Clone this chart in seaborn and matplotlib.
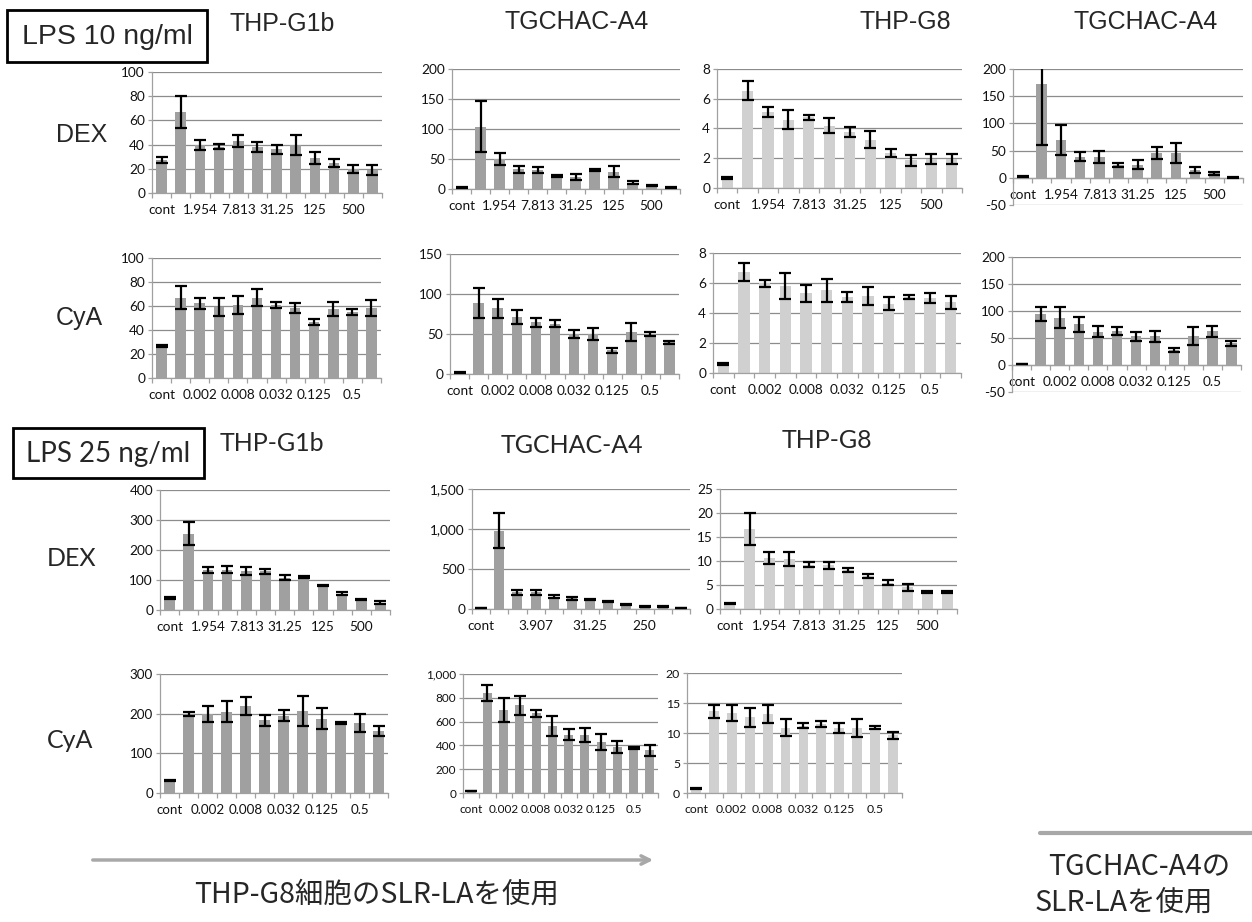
import numpy as np
import pandas as pd
import matplotlib
matplotlib.use("Agg")
import matplotlib.pyplot as plt
import seaborn as sns
from matplotlib.patches import FancyArrowPatch, Rectangle
from matplotlib.lines import Line2D
from matplotlib.ticker import FixedLocator, FuncFormatter

# ---------------- data ----------------
DEX_CONC = ["cont", "0.977", "1.954", "3.907", "7.813", "15.63", "31.25",
            "62.5", "125", "250", "500", "1000"]
CYA_CONC = ["cont", "0.001", "0.002", "0.004", "0.008", "0.016", "0.032",
            "0.0625", "0.125", "0.25", "0.5", "1"]

# LPS 10 ng/ml, DEX
g1b_dex10_mean = [27, 67, 39.7, 38.4, 43, 38, 36, 39.5, 29, 25, 19.8, 18.8]
g1b_dex10_err = [2.5, 13.5, 4.4, 1.8, 5, 4, 4, 8.5, 4.7, 3.5, 3.3, 4.2]
a4_dex10_mean = [2, 104, 50, 33, 31, 22, 20.5, 31, 29, 10.5, 6, 2]
a4_dex10_err = [0.5, 42, 10, 6, 5, 1.5, 5, 1.5, 9, 2.5, 1, 0.5]
g8_dex10_mean = [0.65, 6.55, 5.1, 4.6, 4.75, 4.2, 3.74, 3.25, 2.35, 1.87, 1.97, 1.95]
g8_dex10_err = [0.07, 0.65, 0.36, 0.66, 0.17, 0.48, 0.34, 0.58, 0.25, 0.38, 0.33, 0.33]
a4b_dex10_mean = [2, 172, 69, 39, 39, 22.8, 24, 45, 45.5, 14, 8, 1]
a4b_dex10_err = [0.5, 112, 28, 9, 11, 3.7, 8, 11, 19, 5, 2, 0.5]

# LPS 10 ng/ml, CyA
g1b_cya10_mean = [26.5, 67, 62.3, 59.5, 61, 67, 61, 58.4, 46.5, 57.7, 55, 58.5]
g1b_cya10_err = [1, 9.4, 4.7, 7.5, 7.5, 7, 2.5, 3.9, 2.4, 6, 2.1, 6.8]
a4_cya10_mean = [2, 88.6, 82.3, 71.5, 64.5, 62.7, 50, 50, 29.9, 53, 50, 39.7]
a4_cya10_err = [0.5, 18.8, 11.7, 8.8, 5.2, 4.2, 5.2, 7.3, 3.1, 11.3, 2.1, 2.1]
g8_cya10_mean = [0.6, 6.72, 5.97, 5.8, 5.3, 5.5, 5.05, 5.13, 4.63, 5.08, 5.0, 4.7]
g8_cya10_err = [0.05, 0.6, 0.23, 0.89, 0.56, 0.79, 0.33, 0.58, 0.41, 0.15, 0.33, 0.41]
a4b_cya10_mean = [2, 94.7, 87.6, 75, 62, 62.8, 53, 53, 28.5, 53.6, 62.5, 40.3]
a4b_cya10_err = [0.5, 12.4, 19.5, 13.3, 9.3, 7.1, 7.7, 10.8, 3.7, 16.4, 9.9, 5]

# LPS 25 ng/ml, DEX
g1b_dex25_mean = [40, 255, 133, 134, 130, 129, 108, 110, 82, 55, 35, 25]
g1b_dex25_err = [3, 38, 11, 12, 14, 9, 8, 3, 2, 5, 1, 4]
a4_dex25_mean = [15, 980, 210, 210, 154, 133, 120, 92, 58, 30, 30, 8]
a4_dex25_err = [2, 220, 31, 31, 17, 17, 8, 8, 5, 4, 4, 1]
g8_dex25_mean = [1.2, 16.7, 10.65, 10.5, 9.27, 9.1, 8.2, 6.86, 5.5, 4.5, 3.47, 3.47]
g8_dex25_err = [0.15, 3.4, 1.3, 1.45, 0.6, 0.77, 0.4, 0.35, 0.5, 0.7, 0.2, 0.2]

# LPS 25 ng/ml, CyA
g1b_cya25_mean = [31, 199, 199, 205, 219, 183.5, 195, 207, 187.4, 177, 177, 156]
g1b_cya25_err = [1, 6, 20.7, 27, 22, 13.5, 14.7, 38, 26.4, 3, 22, 12]
a4_cya25_mean = [15, 841, 698, 736, 670, 563, 489, 485, 430, 388, 377, 359]
a4_cya25_err = [2, 67, 98, 80, 28, 88, 47, 60, 67, 53, 8, 46]
g8_cya25_mean = [0.8, 13.6, 13.35, 12.65, 13.15, 10.9, 11.2, 11.5, 10.8, 10.9, 10.9, 9.6]
g8_cya25_err = [0.05, 1.1, 1.35, 1.6, 1.45, 1.4, 0.42, 0.47, 0.84, 1.5, 0.28, 0.64]

# ---------------- style / layout ----------------
W, H = 1252, 922
DARK = "#a0a0a0"
LIGHT = "#d0d0d0"
GRID = "#8c8c8c"
AXC = "#a0a0a0"

sns.set_theme(style="white")
plt.rcParams["font.family"] = ["Liberation Sans", "DejaVu Sans"]

fig = plt.figure(figsize=(W / 100, H / 100), dpi=100)
fig.patch.set_facecolor("white")


def fx(x):
    return x / W


def fy(y):
    return 1 - y / H


# (mean, err, cats, label step, ymin, ymax, ystep, colour, left, right, top, bottom, tick font)
panels = [
    (g1b_dex10_mean, g1b_dex10_err, DEX_CONC, 2, 0, 100, 20, DARK, 152, 382, 72, 193, 9.8),
    (a4_dex10_mean, a4_dex10_err, DEX_CONC, 2, 0, 200, 50, DARK, 452, 680, 69, 189, 9.8),
    (g8_dex10_mean, g8_dex10_err, DEX_CONC, 2, 0, 8, 2, LIGHT, 717, 962, 69, 188, 9.8),
    (a4b_dex10_mean, a4b_dex10_err, DEX_CONC, 2, -50, 200, 50, DARK, 1013, 1243, 69, 205, 9.8),
    (g1b_cya10_mean, g1b_cya10_err, CYA_CONC, 2, 0, 100, 20, DARK, 152, 381, 258, 378, 9.8),
    (a4_cya10_mean, a4_cya10_err, CYA_CONC, 2, 0, 150, 50, DARK, 450, 679, 254, 374, 9.8),
    (g8_cya10_mean, g8_cya10_err, CYA_CONC, 2, 0, 8, 2, LIGHT, 713, 961, 253, 373, 9.8),
    (a4b_cya10_mean, a4b_cya10_err, CYA_CONC, 2, -50, 200, 50, DARK, 1012, 1241, 257, 392, 9.8),
    (g1b_dex25_mean, g1b_dex25_err, DEX_CONC, 2, 0, 400, 100, DARK, 160, 390, 490, 610, 9.8),
    (a4_dex25_mean, a4_dex25_err, DEX_CONC, 3, 0, 1500, 500, DARK, 472, 690, 489, 609, 9.8),
    (g8_dex25_mean, g8_dex25_err, DEX_CONC, 2, 0, 25, 5, LIGHT, 720, 957, 489, 609, 9.8),
    (g1b_cya25_mean, g1b_cya25_err, CYA_CONC, 2, 0, 300, 100, DARK, 160, 388, 674, 793, 9.6),
    (a4_cya25_mean, a4_cya25_err, CYA_CONC, 2, 0, 1000, 200, DARK, 463, 658, 674, 793, 8.5),
    (g8_cya25_mean, g8_cya25_err, CYA_CONC, 2, 0, 20, 5, LIGHT, 687, 902, 673, 793, 8.8),
]

for (mean, err, cats, step, ymin, ymax, ystep, col, L, R, T, B, tfs) in panels:
    ax = fig.add_axes([fx(L), fy(B), (R - L) / W, (B - T) / H])
    df = pd.DataFrame({"conc": cats, "value": mean})
    sns.barplot(data=df, x="conc", y="value", order=cats, color=col,
                saturation=1, width=0.55, errorbar=None, linewidth=0, ax=ax)
    ax.errorbar(np.arange(len(cats)), mean, yerr=err, fmt="none",
                ecolor="black", elinewidth=1.6, capsize=4, capthick=1.6,
                zorder=4)
    ax.set_ylim(ymin, ymax)
    ax.set_xlim(-0.5, len(cats) - 0.5)
    ax.set_yticks(np.arange(ymin, ymax + ystep / 2, ystep))
    ax.yaxis.set_major_formatter(FuncFormatter(lambda v, p: f"{v:,.0f}"))
    ax.yaxis.grid(True, color=GRID, lw=0.9)
    ax.xaxis.grid(False)
    ax.set_axisbelow(True)
    for s in ("top", "right"):
        ax.spines[s].set_visible(False)
    ax.spines["left"].set_color(AXC)
    ax.spines["bottom"].set_color(AXC)
    ax.spines["left"].set_linewidth(0.9)
    ax.spines["bottom"].set_linewidth(0.9)
    if ymin < 0:
        ax.spines["bottom"].set_position(("data", 0))
    idx = np.arange(len(cats))
    ax.set_xticks(idx[::step])
    ax.set_xticklabels(cats[::step])
    ax.xaxis.set_minor_locator(FixedLocator(np.arange(-0.5, len(cats), 1)))
    ax.tick_params(axis="x", which="major", length=0, pad=8)
    ax.tick_params(axis="x", which="minor", length=3.5, color=AXC, width=0.9,
                   direction="out", bottom=True)
    ax.tick_params(axis="y", which="major", length=3, color=AXC, width=0.9,
                   direction="out", left=True, pad=2)
    for lab in ax.get_xticklabels() + ax.get_yticklabels():
        lab.set_fontfamily(["Lato", "DejaVu Sans"])
        lab.set_fontsize(tfs)
        lab.set_color("#111111")
    ax.set_xlabel("")
    ax.set_ylabel("")

# ---------------- titles and labels ----------------
ARIAL = ["Liberation Sans", "DejaVu Sans"]
CALI = ["Lato", "DejaVu Sans"]

titles_top = [("THP-G1b", 282, 24), ("TGCHAC-A4", 577, 22),
              ("THP-G8", 905, 22), ("TGCHAC-A4", 1146, 22)]
for t, x, y in titles_top:
    fig.text(fx(x), fy(y), t, ha="center", va="center", fontsize=18, family=ARIAL)

titles_mid = [("THP-G1b", 272, 443), ("TGCHAC-A4", 572, 445), ("THP-G8", 827, 441)]
for t, x, y in titles_mid:
    fig.text(fx(x), fy(y), t, ha="center", va="center", fontsize=18, family=CALI)

row_labels = [("DEX", 82, 135, ARIAL), ("CyA", 79, 318, ARIAL),
              ("DEX", 72, 559, CALI), ("CyA", 70, 740, CALI)]
for t, x, y, fam in row_labels:
    fig.text(fx(x), fy(y), t, ha="center", va="center", fontsize=18, family=fam)

# LPS boxes
for (t, x0, y0, x1, y1, fam, fs) in [("LPS 10 ng/ml", 7, 10, 207, 62, ARIAL, 20.5),
                                     ("LPS 25 ng/ml", 13, 428, 204, 478, CALI, 20)]:
    fig.patches.append(Rectangle((fx(x0), fy(y1)), (x1 - x0) / W, (y1 - y0) / H,
                                 transform=fig.transFigure, fill=False,
                                 edgecolor="black", lw=2))
    fig.text(fx((x0 + x1) / 2), fy((y0 + y1) / 2 + 1), t, ha="center", va="center",
             fontsize=fs, family=fam)

# bottom annotations
fig.patches.append(FancyArrowPatch((fx(90), fy(860)), (fx(656), fy(860)),
                                   transform=fig.transFigure, arrowstyle="->,head_length=6,head_width=3",
                                   color="#a8a8a8", lw=2.5, mutation_scale=1))
fig.lines.append(Line2D([fx(1040), fx(1252)], [fy(833), fy(833)],
                        transform=fig.transFigure, color="#a8a8a8", lw=3))

JP = ["Noto Sans CJK JP", "DejaVu Sans"]
fig.text(fx(377), fy(895), "THP-G8細胞のSLR-LAを使用", ha="center", va="center",
         fontsize=20.5, family=JP)
fig.text(fx(1139), fy(866), "TGCHAC-A4の", ha="center", va="center",
         fontsize=20.5, family=JP)
fig.text(fx(1124), fy(903), "SLR-LAを使用", ha="center", va="center",
         fontsize=20.5, family=JP)

fig.savefig("out.png", dpi=100, facecolor="white")
